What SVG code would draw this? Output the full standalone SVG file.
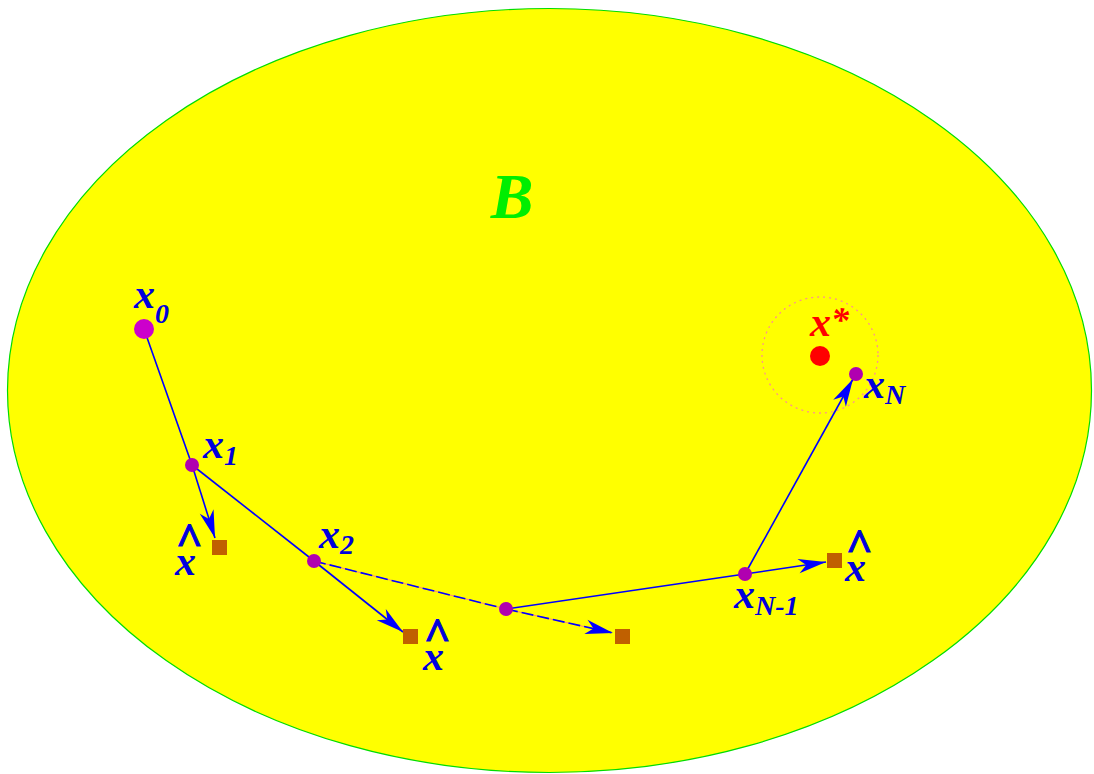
<svg xmlns="http://www.w3.org/2000/svg" width="1094" height="774" viewBox="0 0 1094 774">
<defs>
<marker id="ah" markerUnits="userSpaceOnUse" markerWidth="30" markerHeight="16" viewBox="-26 -7 27 14" refX="0" refY="0" orient="auto">
<path d="M0,0 L-25,-6.5 L-18,0 L-25,6.5 Z" fill="#0000ff"/>
</marker>
</defs>
<style>
.lbl{font-family:"Liberation Serif",serif;font-weight:bold;font-style:italic;fill:#0000dd}
.x{font-size:42px}
.sub{font-size:28px}
.hat{font-style:normal;font-size:46px;stroke:#0000dd;stroke-width:1.2}
.ln{stroke:#0000ff;stroke-width:1.6;fill:none}
.pt{fill:#b000b0}
.sq{fill:#c06000}
</style>
<g id="region">
<ellipse cx="549.5" cy="390.5" rx="542" ry="382" fill="#ffff00" stroke="#00dd00" stroke-width="1.2"/>
<text x="512" y="218" text-anchor="middle" font-family="Liberation Serif,serif" font-weight="bold" font-style="italic" font-size="64" fill="#00ee00">B</text>
</g>
<g id="neighborhood">
<circle cx="820" cy="355" r="58" fill="none" stroke="#ff9090" stroke-width="1.3" stroke-dasharray="2 4"/>
</g>
<g id="connectors">
<line class="ln" x1="144" y1="329" x2="192" y2="465"/>
<line class="ln" x1="192" y1="465" x2="314" y2="561"/>
<line class="ln" x1="314" y1="561" x2="403" y2="632" marker-end="url(#ah)"/>
<line class="ln" x1="192" y1="465" x2="215" y2="538" marker-end="url(#ah)"/>
<line x1="314" y1="561" x2="506" y2="609" stroke="#ff8080" stroke-width="1"/>
<line class="ln" x1="314" y1="561" x2="506" y2="609" stroke-dasharray="12 4"/>
<line x1="506" y1="609" x2="595" y2="629" stroke="#ff8080" stroke-width="1"/>
<line class="ln" x1="506" y1="609" x2="613" y2="633" stroke-dasharray="12 4" marker-end="url(#ah)"/>
<line class="ln" x1="506" y1="609" x2="745" y2="574"/>
<line class="ln" x1="745" y1="574" x2="826" y2="562" marker-end="url(#ah)"/>
<line class="ln" x1="745" y1="574" x2="853" y2="379" marker-end="url(#ah)"/>
</g>
<g id="x0">
<circle cx="144" cy="329" r="10" fill="#cc00cc"/>
<text class="lbl" x="134" y="308"><tspan class="x">x</tspan><tspan class="sub" dy="15">0</tspan></text>
</g>
<g id="x1">
<circle class="pt" cx="192" cy="465" r="7"/>
<text class="lbl" x="203" y="458"><tspan class="x">x</tspan><tspan class="sub" dy="7">1</tspan></text>
</g>
<g id="x2">
<circle class="pt" cx="314" cy="561" r="7"/>
<text class="lbl" x="319" y="548"><tspan class="x">x</tspan><tspan class="sub" dy="6">2</tspan></text>
</g>
<g id="xmid">
<circle class="pt" cx="506" cy="609" r="7"/>
</g>
<g id="xN1">
<circle class="pt" cx="745" cy="574" r="7"/>
<text class="lbl" x="734" y="608"><tspan class="x">x</tspan><tspan class="sub" dy="7">N-1</tspan></text>
</g>
<g id="xN">
<circle class="pt" cx="856" cy="374" r="7"/>
<text class="lbl" x="864" y="398"><tspan class="x">x</tspan><tspan class="sub" dy="6">N</tspan></text>
</g>
<g id="xstar">
<circle cx="820" cy="356" r="10" fill="#ff0000"/>
<text x="810" y="336" font-family="Liberation Serif,serif" font-weight="bold" font-style="italic" fill="#ff0000"><tspan font-size="42">x</tspan><tspan font-size="36" dy="-4">*</tspan></text>
</g>
<g id="xhat1">
<rect class="sq" x="212" y="540" width="15" height="15"/>
<text class="lbl"><tspan class="hat" x="176" y="555">^</tspan><tspan class="x" x="175" y="575">x</tspan></text>
</g>
<g id="xhat2">
<rect class="sq" x="403" y="629" width="15" height="15"/>
<text class="lbl"><tspan class="hat" x="424" y="650">^</tspan><tspan class="x" x="423" y="670">x</tspan></text>
</g>
<g id="xhat3">
<rect class="sq" x="615" y="629" width="15" height="15"/>
</g>
<g id="xhat4">
<rect class="sq" x="827" y="553" width="15" height="15"/>
<text class="lbl"><tspan class="hat" x="846" y="561">^</tspan><tspan class="x" x="845" y="581">x</tspan></text>
</g>
</svg>
